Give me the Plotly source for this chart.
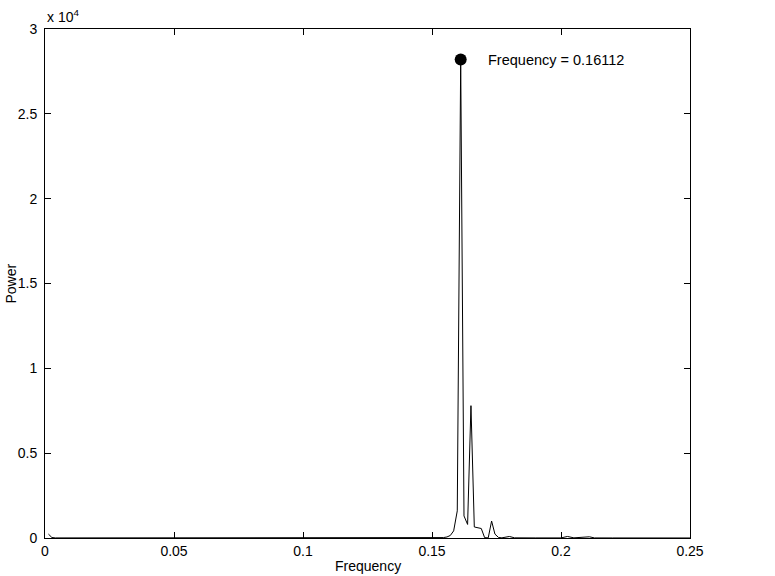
import plotly.graph_objects as go

# Periodogram data (frequency, power)
freq = [0.00133, 0.00266, 0.004, 0.02, 0.05, 0.08, 0.11, 0.14, 0.150,
        0.1531, 0.1544, 0.1558, 0.1571, 0.1584, 0.1598, 0.16112, 0.1624,
        0.1638, 0.1651, 0.1664, 0.1678, 0.1691, 0.1704, 0.1718, 0.1731,
        0.1744, 0.1758, 0.1771, 0.180, 0.182, 0.19, 0.2, 0.2025, 0.205,
        0.211, 0.213, 0.22, 0.235, 0.25]
power = [230, 30, 5, 3, 2, 3, 4, 8, 10,
         15, 25, 60, 150, 420, 1600, 28200, 1300,
         800, 7800, 650, 620, 560, 20, 10, 1000,
         230, 30, 10, 90, 10, 5, 5, 90, 10,
         70, 5, 3, 2, 2]

xticks = [0, 0.05, 0.1, 0.15, 0.2, 0.25]
xticktext = ["0", "0.05", "0.1", "0.15", "0.2", "0.25"]
yticks = [0, 5000, 10000, 15000, 20000, 25000, 30000]
yticktext = ["0", "0.5", "1", "1.5", "2", "2.5", "3"]

ipk = max(range(len(power)), key=lambda i: power[i])
pk_f, pk_p = freq[ipk], power[ipk]

FONT = "Liberation Sans, Arial, Helvetica, sans-serif"

fig = go.Figure()
fig.add_trace(go.Scatter(x=freq, y=power, mode="lines",
                         line=dict(color="black", width=1), hoverinfo="skip"))
fig.add_trace(go.Scatter(x=[pk_f], y=[pk_p], mode="markers",
                         marker=dict(color="black", size=12), hoverinfo="skip"))

fig.add_annotation(x=pk_f, y=pk_p, text=f"Frequency = {pk_f:.5f}",
                   showarrow=False, xanchor="left", yanchor="middle",
                   xshift=25, font=dict(size=14.5, color="black", family=FONT))
fig.add_annotation(xref="paper", yref="paper", x=0, y=1, yshift=2,
                   text="x 10<sup>4</sup>", showarrow=False,
                   xanchor="left", yanchor="bottom",
                   font=dict(size=14, color="black", family=FONT))
fig.add_annotation(xref="paper", yref="paper", x=0.5, y=0, yshift=-38,
                   text="Frequency", showarrow=False,
                   xanchor="center", yanchor="bottom",
                   font=dict(size=14, color="black", family=FONT))
fig.add_annotation(xref="paper", yref="paper", x=0, xshift=-45, y=0.5,
                   text="Power", showarrow=False, textangle=-90,
                   xanchor="left", yanchor="middle",
                   font=dict(size=14, color="black", family=FONT))

axis_common = dict(showline=True, linecolor="black", linewidth=1, mirror="allticks",
                   ticks="inside", ticklen=6, tickcolor="black", tickwidth=1,
                   showgrid=False, zeroline=False,
                   tickfont=dict(size=14, color="black", family=FONT))

fig.update_xaxes(range=[0, 0.25], tickvals=xticks, ticktext=xticktext, **axis_common)
fig.update_yaxes(range=[0, 30000], tickvals=yticks, ticktext=yticktext,
                 ticklabelstandoff=4, **axis_common)

fig.update_layout(width=775, height=576, showlegend=False,
                  plot_bgcolor="white", paper_bgcolor="white",
                  margin=dict(l=45, r=85, t=29, b=38),
                  font=dict(family=FONT, color="black", size=14))

fig.write_html("out.html", config={"displayModeBar": False},
               post_script="document.body.style.margin='0';document.body.style.overflow='hidden';")
